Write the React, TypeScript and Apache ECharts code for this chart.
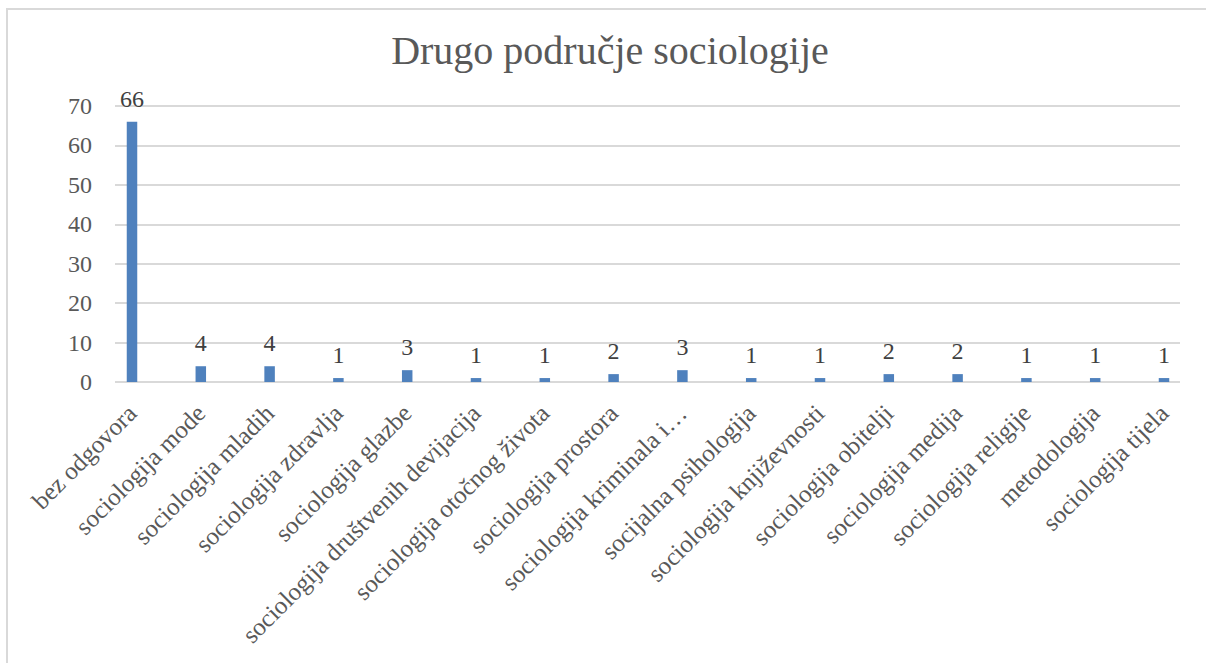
import React, { useEffect, useRef } from "react";
import * as echarts from "echarts";

const titleText = "Drugo područje sociologije";
const categories = [
  "bez odgovora",
  "sociologija mode",
  "sociologija mladih",
  "sociologija zdravlja",
  "sociologija glazbe",
  "sociologija društvenih devijacija",
  "sociologija otočnog života",
  "sociologija prostora",
  "sociologija kriminala i…",
  "socijalna psihologija",
  "sociologija književnosti",
  "sociologija obitelji",
  "sociologija medija",
  "sociologija religije",
  "metodologija",
  "sociologija tijela",
];
const values = [66, 4, 4, 1, 3, 1, 1, 2, 3, 1, 1, 2, 2, 1, 1, 1];
const yMin = 0;
const yMax = 70;
const yStep = 10;

const FONT = "'Liberation Serif', 'DejaVu Serif', serif";
const TEXT = "#595959";
const GRID = "#D9D9D9";

export default function App() {
  const ref = useRef<HTMLDivElement>(null);
  useEffect(() => {
    document.body.style.margin = "0";
    document.body.style.overflow = "hidden";
    const chart = echarts.init(ref.current!, null, { renderer: "svg" });
    chart.setOption({
      animation: false,
      backgroundColor: "#ffffff",
      graphic: [
        {
          type: "rect",
          shape: { x: 7, y: 9, width: 1220, height: 700 },
          style: { fill: "none", stroke: GRID, lineWidth: 2 },
          silent: true,
        },
        {
          type: "text",
          x: 610,
          y: 50,
          style: {
            text: titleText,
            font: `40px ${FONT}`,
            fill: TEXT,
            textAlign: "center",
            textVerticalAlign: "middle",
          },
        },
      ],
      grid: [
        { left: 115, right: 26, top: 106, bottom: 281 },
        { left: 97.6, right: 7.6, top: 106, bottom: 281 },
      ],
      xAxis: [
        { gridIndex: 0, type: "value", min: 0, max: 1, show: false },
        {
          gridIndex: 1,
          type: "category",
          data: categories,
          axisLine: { show: false },
          axisTick: { show: false },
          axisLabel: {
            rotate: 45,
            interval: 0,
            margin: 27,
            color: TEXT,
            fontFamily: FONT,
            fontSize: 25,
          },
        },
      ],
      yAxis: [
        {
          gridIndex: 0,
          type: "value",
          min: yMin,
          max: yMax,
          interval: yStep,
          axisLine: { show: false },
          axisTick: { show: false },
          splitLine: { lineStyle: { color: GRID, width: 2 } },
          axisLabel: {
            margin: 23,
            color: TEXT,
            fontFamily: FONT,
            fontSize: 24,
          },
        },
        {
          gridIndex: 1,
          type: "value",
          min: yMin,
          max: yMax,
          show: false,
          splitLine: { show: false },
        },
      ],
      series: [
        {
          type: "bar",
          xAxisIndex: 1,
          yAxisIndex: 1,
          data: values,
          barWidth: 10.5,
          itemStyle: { color: "#4F81BD" },
          label: {
            show: true,
            position: "top",
            distance: 11,
            color: "#404040",
            fontFamily: FONT,
            fontSize: 24,
          },
        },
      ],
    });
    return () => chart.dispose();
  }, []);
  return <div ref={ref} style={{ width: 1206, height: 663 }} />;
}
